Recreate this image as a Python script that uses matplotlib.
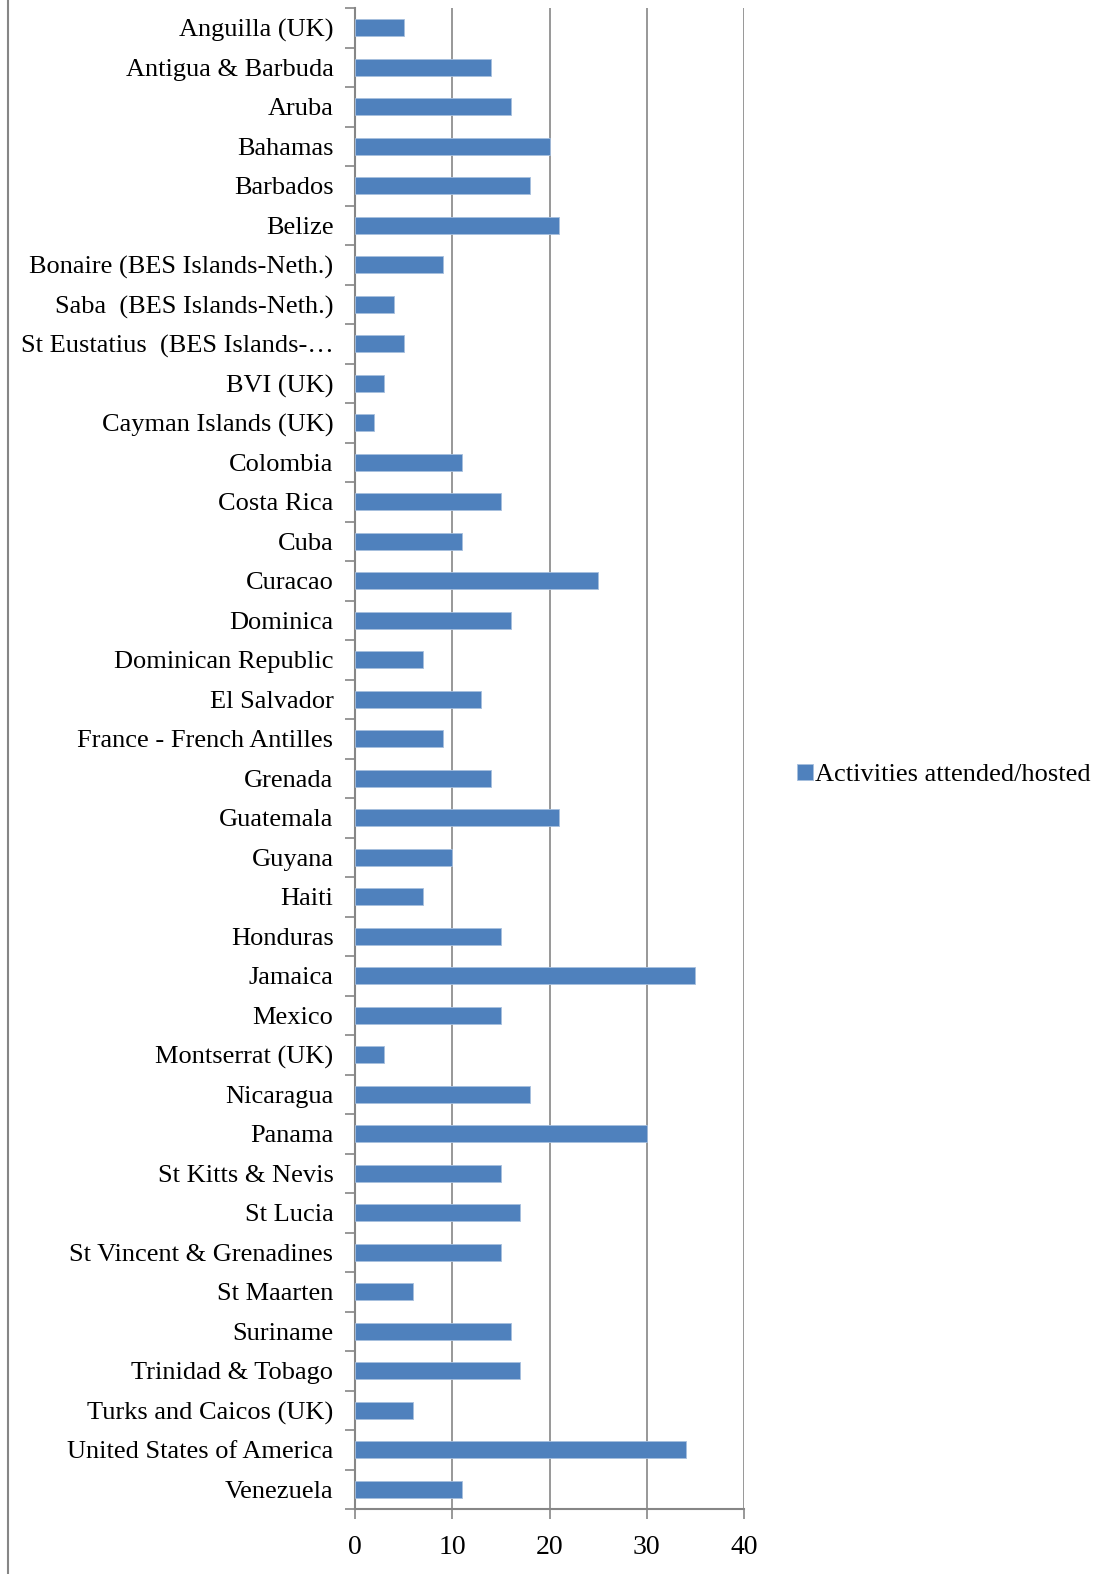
import matplotlib
matplotlib.use("Agg")
import matplotlib.pyplot as plt
from matplotlib.lines import Line2D
import numpy as np

categories = [
    "Anguilla (UK)", "Antigua & Barbuda", "Aruba", "Bahamas", "Barbados", "Belize",
    "Bonaire (BES Islands-Neth.)", "Saba  (BES Islands-Neth.)", "St Eustatius  (BES Islands-\u2026",
    "BVI (UK)", "Cayman Islands (UK)", "Colombia", "Costa Rica", "Cuba", "Curacao",
    "Dominica", "Dominican Republic", "El Salvador", "France - French Antilles", "Grenada",
    "Guatemala", "Guyana", "Haiti", "Honduras", "Jamaica", "Mexico", "Montserrat (UK)",
    "Nicaragua", "Panama", "St Kitts & Nevis", "St Lucia", "St Vincent & Grenadines",
    "St Maarten", "Suriname", "Trinidad & Tobago", "Turks and Caicos (UK)",
    "United States of America", "Venezuela",
]
values = [5, 14, 16, 20, 18, 21, 9, 4, 5, 3, 2, 11, 15, 11, 25, 16, 7, 13, 9, 14,
          21, 10, 7, 15, 35, 15, 3, 18, 30, 15, 17, 15, 6, 16, 17, 6, 34, 11]
series_name = "Activities attended/hosted"
x_ticks = [0, 10, 20, 30, 40]

plt.rcParams['font.family'] = ['Liberation Serif', 'DejaVu Serif']
FS = 19

fig = plt.figure(figsize=(11.05, 15.74), dpi=100)
ax = fig.add_axes([355/1105, 1 - 1509/1574, (744-355)/1105, (1509-8)/1574])

n = len(categories)
y = np.arange(n)
ax.barh(y, values, height=0.43, color="#4F81BD", edgecolor="#A7BFDE", linewidth=0.6,
        label=series_name, zorder=3)
ax.set_ylim(n - 0.5, -0.5)
ax.set_xlim(0, 40)
ax.set_xticks(x_ticks)
ax.set_yticks(y)
ax.set_yticklabels(categories)
ax.set_yticks(np.arange(-0.5, n, 1.0), minor=True)
ax.tick_params(axis='y', which='major', length=0, pad=15.5, labelsize=FS)
ax.tick_params(axis='y', which='minor', length=7, width=1.2, color="#868686", direction='out')
ax.tick_params(axis='x', which='major', length=7, width=1.2, color="#868686", direction='out',
               pad=12, labelsize=20)
ax.xaxis.grid(True, color="#868686", linewidth=1.2, zorder=0)
for s in ['top', 'right']:
    ax.spines[s].set_visible(False)
for s in ['left', 'bottom']:
    ax.spines[s].set_color("#868686")
    ax.spines[s].set_linewidth(1.5)

fig.legend(loc='center left', bbox_to_anchor=(797/1105, 1 - 775/1574), frameon=False,
           fontsize=FS, handlelength=0.6, handleheight=0.6, handletextpad=0.1,
           borderpad=0, borderaxespad=0)

fig.add_artist(Line2D([8/1105, 8/1105], [0, 1], transform=fig.transFigure,
                      color="#868686", linewidth=1.5))

fig.savefig("out.png", dpi=100)
